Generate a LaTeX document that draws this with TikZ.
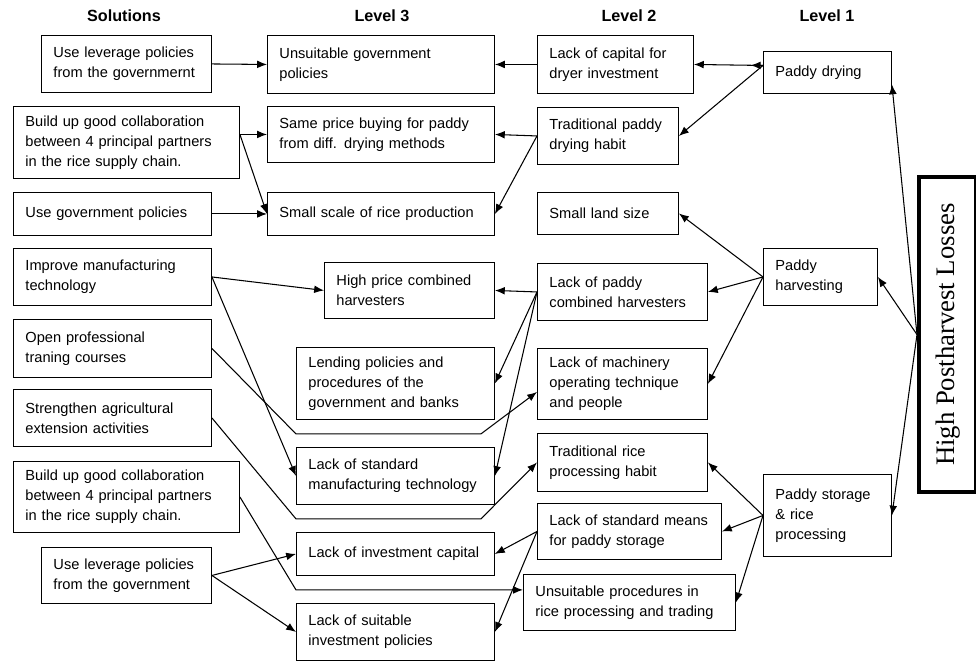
\documentclass[tikz,border=0pt]{standalone}
\usepackage{fontspec}
\setmainfont{Liberation Serif}
\setsansfont{Liberation Sans}
\usetikzlibrary{arrows.meta,calc}

\begin{document}
\begin{tikzpicture}[
  x=0.025cm, y=-0.025cm,
  font=\sffamily\fontsize{10.4}{14.2}\selectfont,
  cause/.style 2 args={rectangle,draw=black,line width=0.65pt,anchor=north west,minimum width=#1*0.025cm,minimum height=#2*0.025cm,text width=(#1-24)*0.025cm,inner xsep=0.3cm,inner ysep=0pt,align=left},
  head/.style={font=\sffamily\bfseries\fontsize{11.5}{13}\selectfont,anchor=center},
  loss/.style={rectangle,draw=black,line width=3pt,anchor=north west,minimum width=57*0.025cm,minimum height=315*0.025cm,inner sep=0pt,font=\rmfamily\fontsize{19}{21}\selectfont},
  link/.style={-{Latex[length=7pt,width=5.5pt]},line width=0.75pt,draw=black}
]
\useasboundingbox (0,0) rectangle (976,662);

\node[head] (hsol) at (124,16) {Solutions};
\node[head] (hl3) at (382,16) {Level 3};
\node[head] (hl2) at (629,16) {Level 2};
\node[head] (hl1) at (827,16) {Level 1};

% solutions
\node[cause={170}{57}] (sA) at (41,35) {Use leverage policies\\from the governmernt};
\node[cause={226}{72}] (sB) at (13,106) {Build up good collaboration\\between 4 principal partners\\in the rice supply chain.};
\node[cause={198}{43}] (sC) at (13,192) {Use government policies};
\node[cause={198}{57}] (sD) at (13,248) {Improve manufacturing\\technology};
\node[cause={198}{58}] (sE) at (13,319) {Open professional\\traning courses};
\node[cause={198}{57}] (sF) at (13,389) {Strengthen agricultural\\extension activities};
\node[cause={226}{71}] (sG) at (13,461) {Build up good collaboration\\between 4 principal partners\\in the rice supply chain.};
\node[cause={170}{56}] (sH) at (41,547) {Use leverage policies\\from the government};

% level 3
\node[cause={227}{58}] (tA) at (267,35) {Unsuitable government\\policies};
\node[cause={227}{56}] (tB) at (267,106) {Same price buying for paddy\\from diff. drying methods};
\node[cause={227}{43}] (tC) at (267,192) {Small scale of rice production};
\node[cause={170}{56}] (tD) at (324,262) {High price combined\\harvesters};
\node[cause={198}{72}] (tE) at (296,347) {Lending policies and\\procedures of the\\government and banks};
\node[cause={198}{57}] (tF) at (296,447) {Lack of standard\\manufacturing technology};
\node[cause={198}{43}] (tG) at (296,532) {Lack of investment capital};
\node[cause={198}{57}] (tH) at (296,603) {Lack of suitable\\ investment policies};

% level 2
\node[cause={156}{58}] (uA) at (537,35) {Lack of capital for\\dryer investment};
\node[cause={141}{57}] (uB) at (537,107) {Traditional paddy\\drying habit};
\node[cause={141}{42}] (uC) at (537,192) {Small land size};
\node[cause={170}{57}] (uD) at (537,263) {Lack of paddy\\combined harvesters};
\node[cause={170}{71}] (uE) at (537,348) {Lack of machinery\\operating technique\\and people};
\node[cause={170}{58}] (uF) at (537,433) {Traditional rice\\processing habit};
\node[cause={184}{56}] (uG) at (537,503) {Lack of standard means\\for paddy storage};
\node[cause={212}{56}] (uH) at (523,574) {Unsuitable procedures in\\rice processing and trading};

% level 1
\node[cause={128}{42}] (vA) at (763,51) {Paddy drying};
\node[cause={114}{57}] (vB) at (763,248) {Paddy\\harvesting};
\node[cause={128}{82}] (vC) at (763,474) {Paddy storage\\\& rice\\processing};

\node[loss] (hpl) at (917,175) {\rotatebox{90}{High Postharvest Losses}};

\coordinate (vAo) at ($(vA.west)+(0,-7)$);
\coordinate (sBo) at (sB.east |- tB.west);
\coordinate (eA) at ($(tE.south west)+(0,14)$);
\coordinate (eB) at ($(tE.south east)+(-14,14)$);
\coordinate (fA) at ($(tF.south west)+(0,14)$);
\coordinate (fB) at ($(tF.south east)+(-14,14)$);
\coordinate (gA) at ($(tG.south west)+(0,14)$);

\draw[link] (hpl.west) -- ($(vA.east)+(0,12)$);
\draw[link] (hpl.west) -- (vB.east);
\draw[link] (hpl.west) -- (vC.east);

\draw[link] (vAo) -- (uA.east);
\draw[link,shorten >=1.42cm] (vAo) -- (uA.east);
\draw[link] (vAo) -- (uB.east);
\foreach \t in {uC,uD,uE} \draw[link] (vB.west) -- (\t.east);
\foreach \t in {uF,uG,uH} \draw[link] (vC.west) -- (\t.east);

\draw[link] (uA.west) -- (tA.east);
\draw[link] (uB.west) -- (tB.east);
\draw[link] (uB.west) -- (tC.east);
\foreach \t in {tD,tE,tF} \draw[link] (uD.west) -- (\t.east);
\foreach \t in {tG,tH} \draw[link] (uG.west) -- (\t.east);

\draw[link] (sA.east) -- (tA.west);
\draw[link] (sBo) -- (tB.west);
\draw[link] (sBo) -- (tC.west);
\draw[link] (sC.east) -- (tC.west);
\draw[link] (sD.east) -- (tD.west);
\draw[link] (sD.east) -- (tF.west);
\draw[link] (sE.east) -- (eA) -- (eB) -- ($(uE.west)+(0,8)$);
\draw[link] (sF.east) -- (fA) -- (fB) -- (uF.west);
\draw[link] (sG.east) -- (gA) -- (uH.west |- gA);
\draw[link] (sH.east) -- (tG.west);
\draw[link] (sH.east) -- (tH.west);
\end{tikzpicture}
\end{document}
